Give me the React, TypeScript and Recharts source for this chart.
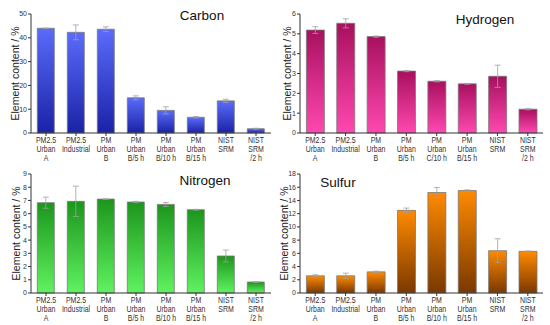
import { BarChart, Bar, XAxis, YAxis, ErrorBar } from "recharts";

const categories = [
  "PM2.5\nUrban\nA",
  "PM2.5\nIndustrial",
  "PM\nUrban\nB",
  "PM\nUrban\nB/5 h",
  "PM\nUrban\nB/10 h",
  "PM\nUrban\nB/15 h",
  "NIST\nSRM",
  "NIST\nSRM\n/2 h",
];
const hydrogenCategories = [
  "PM2.5\nUrban\nA",
  "PM2.5\nIndustrial",
  "PM\nUrban\nB",
  "PM\nUrban\nB/5 h",
  "PM\nUrban\nC/10 h",
  "PM\nUrban\nB/15 h",
  "NIST\nSRM",
  "NIST\nSRM\n/2 h",
];

const carbonValues = [44, 42.3, 43.6, 14.8, 9.5, 6.6, 13.5, 1.8];
const carbonErrors = [0.1, 3.1, 1, 0.8, 1.5, 0.3, 0.7, 0.2];
const hydrogenValues = [5.19, 5.53, 4.86, 3.12, 2.61, 2.48, 2.86, 1.2];
const hydrogenErrors = [0.17, 0.23, 0.03, 0.03, 0.03, 0.02, 0.56, 0.03];
const nitrogenValues = [6.83, 6.93, 7.1, 6.88, 6.7, 6.3, 2.8, 0.83];
const nitrogenErrors = [0.42, 1.15, 0.03, 0.05, 0.15, 0.03, 0.45, 0.02];
const sulfurValues = [2.6, 2.6, 3.2, 12.5, 15.2, 15.5, 6.4, 6.3];
const sulfurErrors = [0.15, 0.4, 0.1, 0.35, 0.75, 0.1, 1.8, 0.05];

const carbonTicks = [0, 10, 20, 30, 40, 50];
const hydrogenTicks = [0, 1, 2, 3, 4, 5, 6];
const nitrogenTicks = [0, 1, 2, 3, 4, 5, 6, 7, 8, 9];
const sulfurTicks = [0, 2, 4, 6, 8, 10, 12, 14, 16, 18];

const FONT = "'Liberation Sans', Arial, sans-serif";

// category labels are drawn in a squeezed sans to mimic the narrow font of the original
function CatTick({ x, y, payload }: any) {
  const lines = String(payload.value).split("\n");
  return (
    <g transform={`translate(${x} ${y}) scale(0.82 1)`}>
      <text x={0} y={0} textAnchor="middle" fontSize={8.5} fill="#333" fontFamily={FONT}>
        {lines.map((l, i) => (
          <tspan key={i} x={0} dy={i === 0 ? 6.5 : 9.3}>
            {l}
          </tspan>
        ))}
      </text>
    </g>
  );
}

type PanelProps = {
  id: string;
  cats: string[];
  values: number[];
  errors: number[];
  ticks: number[];
  top: string;
  bottom: string;
  left: number;
  topPos: number;
  axisW: number;
  marginRight: number;
  labelX: number;
};

function Panel(p: PanelProps) {
  const data = p.cats.map((c, i) => ({ name: c, value: p.values[i], err: p.errors[i] }));
  return (
    <div style={{ position: "absolute", left: p.left, top: p.topPos }}>
      <BarChart
        width={275}
        height={165}
        data={data}
        margin={{ top: 14, right: p.marginRight, bottom: 0, left: 0 }}
        barCategoryGap="21%"
        style={{ overflow: "visible" }}
      >
        <defs>
          <linearGradient id={p.id} x1="0" y1="0" x2="0" y2="1">
            <stop offset="0%" stopColor={p.top} />
            <stop offset="100%" stopColor={p.bottom} />
          </linearGradient>
        </defs>
        <XAxis
          dataKey="name"
          height={32}
          interval={0}
          tick={<CatTick />}
          tickSize={3}
          tickMargin={0}
          stroke="#333"
        />
        <YAxis
          width={p.axisW}
          domain={[0, p.ticks[p.ticks.length - 1]]}
          ticks={p.ticks}
          tickSize={3}
          tickMargin={1}
          stroke="#333"
          tick={{ fontSize: 7, fill: "#333", fontFamily: FONT }}
          label={{
            content: ({ viewBox }: any) => (
              <text
                x={viewBox.x + p.labelX}
                y={viewBox.y + viewBox.height / 2}
                transform={`rotate(-90 ${viewBox.x + p.labelX} ${viewBox.y + viewBox.height / 2})`}
                textAnchor="middle"
                dominantBaseline="central"
                fontSize={10.5}
                fill="#222"
                fontFamily={FONT}
              >
                Element content / %
              </text>
            ),
          }}
        />
        <Bar
          dataKey="value"
          fill={`url(#${p.id})`}
          stroke="#7a7a7a"
          strokeWidth={0.8}
          isAnimationActive={false}
        >
          <ErrorBar dataKey="err" width={3} stroke="#a0a0a0" strokeWidth={0.8} />
        </Bar>
      </BarChart>
    </div>
  );
}

export default function App() {
  return (
    <div
      style={{
        position: "absolute",
        left: 0,
        top: 0,
        width: 550,
        height: 325,
        background: "#fff",
        overflow: "hidden",
      }}
    >
      <Panel id="gC" cats={categories} values={carbonValues} errors={carbonErrors} ticks={carbonTicks}
        top="#5a6cfa" bottom="#1a22a6" left={0} topPos={0} axisW={31} marginRight={4} labelX={15} />
      <Panel id="gH" cats={hydrogenCategories} values={hydrogenValues} errors={hydrogenErrors} ticks={hydrogenTicks}
        top="#a8105e" bottom="#ff48b0" left={275} topPos={0} axisW={25} marginRight={7} labelX={11.5} />
      <Panel id="gN" cats={categories} values={nitrogenValues} errors={nitrogenErrors} ticks={nitrogenTicks}
        top="#1c961c" bottom="#60f260" left={0} topPos={160} axisW={31} marginRight={4} labelX={16} />
      <Panel id="gS" cats={categories} values={sulfurValues} errors={sulfurErrors} ticks={sulfurTicks}
        top="#ff8a00" bottom="#7a3800" left={275} topPos={160} axisW={25} marginRight={7} labelX={8.5} />
      <svg width={550} height={325} style={{ position: "absolute", left: 0, top: 0, pointerEvents: "none" }}>
        <g fontFamily={FONT} fontSize={13.5} fill="#111" textAnchor="middle">
          <text x={202} y={20}>Carbon</text>
          <text x={485} y={24}>Hydrogen</text>
          <text x={205} y={185}>Nitrogen</text>
          <text x={338} y={187}>Sulfur</text>
        </g>
      </svg>
    </div>
  );
}
